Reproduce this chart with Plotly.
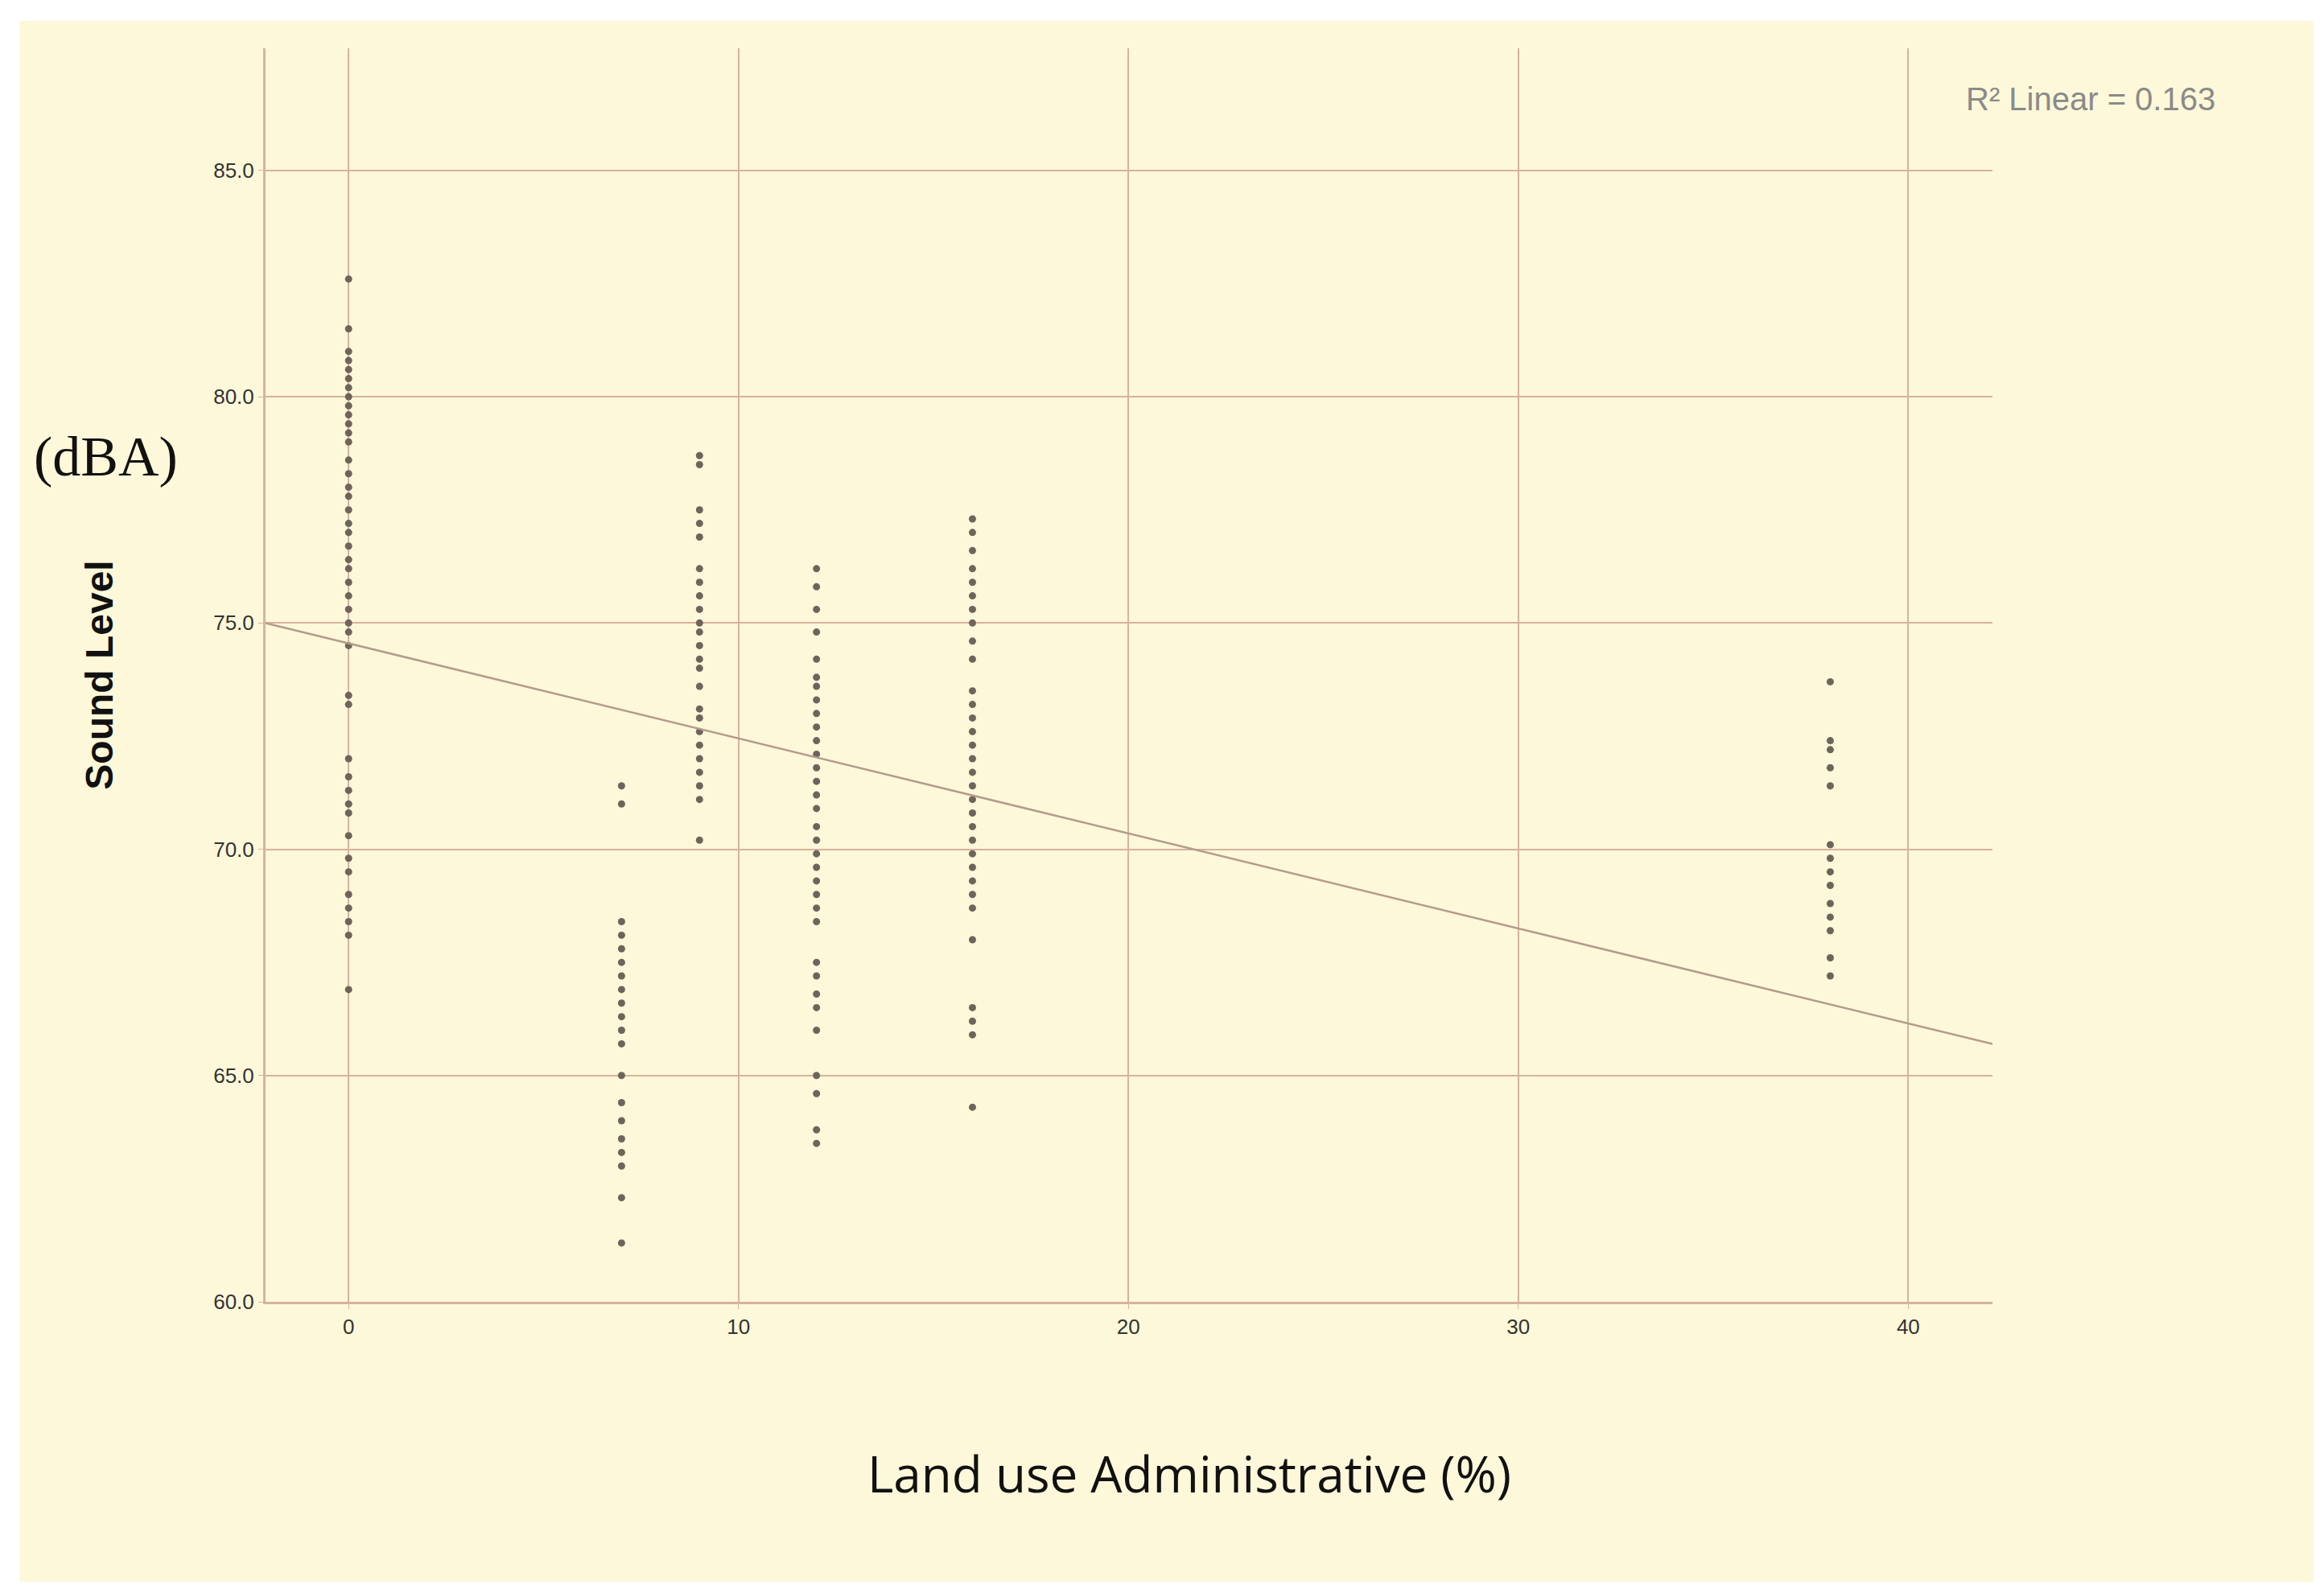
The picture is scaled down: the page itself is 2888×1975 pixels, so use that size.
import plotly.graph_objects as go

x0_vals = [82.6, 81.5, 81.0, 80.8, 80.6, 80.4, 80.2, 80.0, 79.8, 79.6, 79.4, 79.2, 79.0, 78.6, 78.3, 78.0, 77.8, 77.5, 77.2, 77.0, 76.7, 76.4, 76.2, 75.9, 75.6, 75.3, 75.0, 74.8, 74.5, 73.4, 73.2, 72.0, 71.6, 71.3, 71.0, 70.8, 70.3, 69.8, 69.5, 69.0, 68.7, 68.4, 68.1, 66.9]
x7_vals = [71.4, 71.0, 68.4, 68.1, 67.8, 67.5, 67.2, 66.9, 66.6, 66.3, 66.0, 65.7, 65.0, 64.4, 64.0, 63.6, 63.3, 63.0, 62.3, 61.3]
x9_vals = [78.7, 78.5, 77.5, 77.2, 76.9, 76.2, 75.9, 75.6, 75.3, 75.0, 74.8, 74.5, 74.2, 74.0, 73.6, 73.1, 72.9, 72.6, 72.3, 72.0, 71.7, 71.4, 71.1, 70.2]
x12_vals = [76.2, 75.8, 75.3, 74.8, 74.2, 73.8, 73.6, 73.3, 73.0, 72.7, 72.4, 72.1, 71.8, 71.5, 71.2, 70.9, 70.5, 70.2, 69.9, 69.6, 69.3, 69.0, 68.7, 68.4, 67.5, 67.2, 66.8, 66.5, 66.0, 65.0, 64.6, 63.8, 63.5]
x16_vals = [77.3, 77.0, 76.6, 76.2, 75.9, 75.6, 75.3, 75.0, 74.6, 74.2, 73.5, 73.2, 72.9, 72.6, 72.3, 72.0, 71.7, 71.4, 71.1, 70.8, 70.5, 70.2, 69.9, 69.6, 69.3, 69.0, 68.7, 68.0, 66.5, 66.2, 65.9, 64.3]
x38_vals = [73.7, 72.4, 72.2, 71.8, 71.4, 70.1, 69.8, 69.5, 69.2, 68.8, 68.5, 68.2, 67.6, 67.2]
groups = [(0, x0_vals), (7, x7_vals), (9, x9_vals), (12, x12_vals), (16, x16_vals), (38, x38_vals)]

fit_intercept = 74.55
fit_slope = -0.21
fit_x = [-2.13, 42.16]

xs, ys = [], []
for gx, vals in groups:
    xs += [gx] * len(vals)
    ys += vals

grid = "#d8b29c"
fig = go.Figure()
fig.add_trace(go.Scatter(x=xs, y=ys, mode="markers",
                         marker=dict(color="#6e645b", size=9), showlegend=False))
fig.add_trace(go.Scatter(x=fit_x, y=[fit_intercept + fit_slope * v for v in fit_x],
                         mode="lines", line=dict(color="#b39c8c", width=2.5), showlegend=False))

fig.add_shape(type="rect", xref="paper", yref="paper", x0=-0.1425, x1=1.186, y0=-0.2234, y1=1.0218,
              fillcolor="#fdf8d9", line_width=0, layer="below")

fig.update_layout(
    width=2888, height=1975,
    margin=dict(l=322, r=420, t=52, b=365),
    paper_bgcolor="white", plot_bgcolor="rgba(0,0,0,0)",
    font=dict(family="Liberation Sans, Arial", color="#333"),
    xaxis=dict(range=[-2.13, 42.16], tickvals=[0, 10, 20, 30, 40], ticktext=["0", "10", "20", "30", "40"],
               showgrid=True, gridcolor=grid, gridwidth=2, zeroline=False,
               showline=True, linecolor=grid, linewidth=3, ticks="outside", ticklen=6, tickcolor=grid,
               tickfont=dict(size=26)),
    yaxis=dict(range=[60, 87.7], tickvals=[60, 65, 70, 75, 80, 85],
               ticktext=["60.0", "65.0", "70.0", "75.0", "80.0", "85.0"],
               showgrid=True, gridcolor=grid, gridwidth=2, zeroline=False,
               showline=True, linecolor=grid, linewidth=3, ticks="outside", ticklen=6, tickcolor=grid,
               tickfont=dict(size=26),
               title=dict(text="<b>Sound Level</b>", font=dict(size=48, color="#111"), standoff=110)),
)
fig.add_annotation(xref="paper", yref="paper", x=1.13, y=0.975, text="R² Linear = 0.163", showarrow=False,
                   xanchor="right", font=dict(size=40, color="#8a8a8a"))
fig.add_annotation(xref="paper", yref="paper", x=-0.135, y=0.7, text="(dBA)", showarrow=False,
                   xanchor="left", font=dict(size=70, family="Liberation Serif", color="#111"))
fig.add_annotation(xref="paper", yref="paper", x=0.535, y=-0.165, text="Land use Administrative (%)",
                   showarrow=False, xanchor="center",
                   font=dict(size=62, family="Open Sans", color="#111"))
fig.write_html("out.html")
